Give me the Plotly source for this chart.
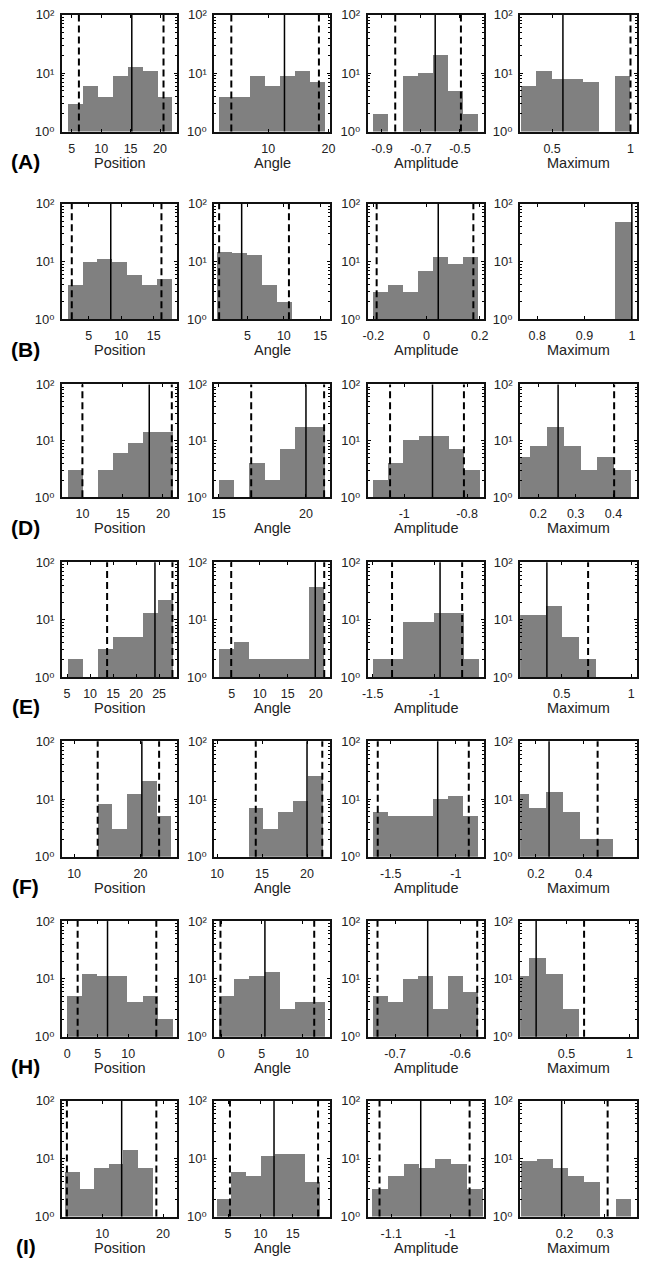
import plotly.graph_objects as go

# ---------------- data ----------------
row_labels = ["(A)", "(B)", "(D)", "(E)", "(F)", "(H)", "(I)"]
var_names = ["Position", "Angle", "Amplitude", "Maximum"]

# Position
pos_start = [4.28, 1.8, 8.16, 5.3, 13.55, 0.0, 3.9]
pos_width = [2.55, 2.28, 1.87, 3.25, 2.22, 2.47, 2.4]
pos_counts = [[3, 6, 4, 9, 13, 11, 4], [4, 10, 11, 10, 6, 4, 5], [3, 0, 3, 6, 9, 14, 14],
              [2, 0, 3, 5, 5, 13, 22], [8, 3, 12, 20, 5], [5, 12, 11, 11, 4, 5, 2],
              [6, 3, 7, 8, 14, 7]]
pos_median = [15.2, 8.4, 18.3, 24.1, 20.2, 6.6, 13.2]
pos_lo = [6.2, 2.4, 10.0, 13.7, 13.55, 1.7, 4.2]
pos_hi = [20.6, 16.2, 21.1, 27.9, 22.8, 14.6, 18.9]
pos_xrange = [[3.33, 22.9], [0.9, 18.6], [7.47, 21.75], [3.9, 28.9], [8.18, 25.5], [-0.86, 18.0], [3.4, 22.3]]
pos_ticks = [[5, 10, 15, 20], [5, 10, 15], [10, 15, 20], [5, 10, 15, 20, 25], [10, 20], [0, 5, 10], [10, 20]]

# Angle
ang_start = [2.0, 0.9, 15.04, 2.76, 13.55, -0.2, 3.3]
ang_width = [2.5, 2.05, 0.87, 2.68, 1.65, 1.87, 2.27]
ang_counts = [[4, 4, 9, 6, 9, 11, 7], [15, 14, 13, 4, 2], [2, 0, 4, 2, 7, 17, 17],
              [3, 4, 2, 2, 2, 2, 36], [7, 3, 6, 9, 25], [5, 10, 11, 13, 3, 4, 4],
              [2, 6, 5, 11, 12, 12, 4]]
ang_median = [12.7, 4.2, 20.0, 19.9, 20.0, 5.4, 12.1]
ang_lo = [3.9, 1.1, 16.86, 4.9, 14.3, -0.1, 5.3]
ang_hi = [18.4, 10.7, 21.04, 21.5, 21.7, 11.5, 18.9]
ang_xrange = [[1.1, 20.3], [0.45, 16.4], [14.75, 21.4], [1.9, 22.6], [9.7, 22.6], [-0.85, 13.5], [2.9, 20.8]]
ang_ticks = [[10, 20], [5, 10, 15], [15, 20], [5, 10, 15, 20], [10, 15, 20], [0, 5, 10], [5, 10, 15]]

# Amplitude
amp_start = [-0.947, -0.204, -1.1, -1.5, -1.636, -0.734, -1.133]
amp_width = [0.0768, 0.0567, 0.0484, 0.1227, 0.115, 0.023, 0.0268]
amp_counts = [[2, 0, 9, 10, 21, 5, 2], [3, 4, 3, 7, 12, 9, 12], [2, 4, 10, 12, 12, 7, 3],
              [2, 2, 9, 9, 13, 13, 2], [6, 5, 5, 5, 10, 11, 5], [5, 4, 10, 11, 3, 11, 6],
              [3, 5, 8, 7, 10, 8, 3]]
amp_median = [-0.627, 0.044, -0.91, -0.954, -1.139, -0.65, -1.05]
amp_lo = [-0.832, -0.1875, -1.045, -1.343, -1.6, -0.727, -1.12]
amp_hi = [-0.495, 0.176, -0.81, -0.775, -0.9, -0.574, -0.967]
amp_xrange = [[-0.973, -0.378], [-0.221, 0.215], [-1.116, -0.747], [-1.54, -0.6], [-1.677, -0.785],
              [-0.742, -0.564], [-1.14, -0.943]]
amp_ticks = [[-0.9, -0.7, -0.5], [-0.2, 0, 0.2], [-1, -0.8], [-1.5, -1], [-1.5, -1], [-0.7, -0.6], [-1.1, -1]]

# Maximum
max_start = [0.3, 0.964, 0.133, 0.145, 0.102, 0.072, 0.093]
max_width = [0.1, 0.036, 0.045, 0.12, 0.0703, 0.133, 0.039]
max_counts = [[6, 11, 8, 8, 7, 0, 9], [49], [5, 8, 17, 8, 3, 5, 3], [12, 12, 17, 5, 2],
              [12, 7, 13, 6, 2, 2], [11, 23, 12, 3], [9, 10, 7, 5, 4, 0, 2]]
max_median = [0.569, 1.0, 0.253, 0.393, 0.255, 0.26, 0.193]
max_lo = [None, None, None, None, None, None, None]
max_hi = [1.0, None, 0.402, 0.69, 0.458, 0.64, 0.307]
max_xrange = [[0.296, 1.042], [0.764, 1.011], [0.152, 0.463], [0.2, 1.043], [0.134, 0.623],
              [0.133, 1.06], [0.09, 0.38]]
max_ticks = [[0.5, 1], [0.8, 0.9, 1], [0.2, 0.3, 0.4], [0.5, 1], [0.2, 0.4], [0.5, 1], [0.2, 0.3]]

y_ticks = [1, 10, 100]
y_ticktext = ["10\u2070", "10\u00b9", "10\u00b2"]

# ---------------- layout / style ----------------
W, H = 647, 1271
col_left = [57, 212, 368, 523]
col_right = [174, 330, 486, 642]
row_top = [8, 199, 382, 562, 743, 925, 1107]
row_bot = [126, 316, 496, 678, 860, 1042, 1224]
GRAY = "#808080"
FONT = "Liberation Sans, Arial, Helvetica, DejaVu Sans, sans-serif"

columns = [
    (pos_start, pos_width, pos_counts, pos_median, pos_lo, pos_hi, pos_xrange, pos_ticks),
    (ang_start, ang_width, ang_counts, ang_median, ang_lo, ang_hi, ang_xrange, ang_ticks),
    (amp_start, amp_width, amp_counts, amp_median, amp_lo, amp_hi, amp_xrange, amp_ticks),
    (max_start, max_width, max_counts, max_median, max_lo, max_hi, max_xrange, max_ticks),
]

fig = go.Figure()
layout = {}
shapes = []
annotations = []

for r in range(len(row_labels)):
    for c in range(4):
        start, width, counts, med, lo, hi, xr, ticks = (a[r] for a in columns[c])
        k = r * 4 + c + 1
        xn = "x" if k == 1 else f"x{k}"
        yn = "y" if k == 1 else f"y{k}"
        centers = [start + width * (i + 0.5) for i in range(len(counts))]
        ys = [v if v > 0 else None for v in counts]
        fig.add_trace(go.Bar(x=centers, y=ys, width=[width] * len(counts),
                             marker=dict(color=GRAY, line=dict(width=0)),
                             xaxis=xn, yaxis=yn, showlegend=False, hoverinfo="skip"))
        layout["xaxis" if k == 1 else f"xaxis{k}"] = dict(
            domain=[col_left[c] / W, col_right[c] / W], range=xr, anchor=yn,
            tickvals=ticks, ticktext=[f"{t:g}" for t in ticks],
            ticks="inside", ticklen=3, tickwidth=1, tickcolor="black",
            showline=True, linecolor="#111", linewidth=2, mirror="ticks",
            showgrid=False, zeroline=False, ticklabelstandoff=4,
            tickfont=dict(size=12.5, color="#222", family=FONT))
        layout["yaxis" if k == 1 else f"yaxis{k}"] = dict(
            domain=[1 - row_bot[r] / H, 1 - row_top[r] / H], type="log", range=[0, 2],
            anchor=xn, tickvals=y_ticks, ticktext=y_ticktext,
            ticks="inside", ticklen=3, tickwidth=1, tickcolor="black",
            minor=dict(ticks="inside", ticklen=2, tickcolor="black", dtick="D1", showgrid=False),
            showline=True, linecolor="#111", linewidth=2, mirror="ticks",
            showgrid=False, zeroline=False, ticklabelstandoff=3,
            tickfont=dict(size=13, color="#222", family=FONT))
        # median (solid) and percentile (dashed) lines
        shapes.append(dict(type="line", xref=xn, yref=f"{yn} domain", x0=med, x1=med, y0=0, y1=1,
                           line=dict(color="black", width=1.5)))
        for v in (lo, hi):
            if v is not None:
                shapes.append(dict(type="line", xref=xn, yref=f"{yn} domain", x0=v, x1=v, y0=0, y1=1,
                                   line=dict(color="black", width=2, dash="7px,4px")))
        annotations.append(dict(text=var_names[c], xref=f"{xn} domain", yref=f"{yn} domain",
                                x=0.5, y=0, yshift=-31, yanchor="middle", showarrow=False,
                                font=dict(size=14.5, color="#222", family=FONT)))
    yn1 = "y" if r == 0 else f"y{r * 4 + 1}"
    annotations.append(dict(text=f"<b>{row_labels[r]}</b>", xref="paper", yref=f"{yn1} domain",
                            x=20 / W, y=0, yshift=-30, xanchor="center", yanchor="middle",
                            showarrow=False, font=dict(size=21, color="black", family=FONT)))

fig.update_layout(**layout)
fig.update_layout(width=W, height=H, margin=dict(l=0, r=0, t=0, b=0),
                  paper_bgcolor="white", plot_bgcolor="white",
                  shapes=shapes, annotations=annotations, bargap=0,
                  font=dict(family=FONT))
fig.write_html("out.html", config={"displayModeBar": False},
               post_script="document.body.style.margin='0';document.body.style.overflow='hidden';")
